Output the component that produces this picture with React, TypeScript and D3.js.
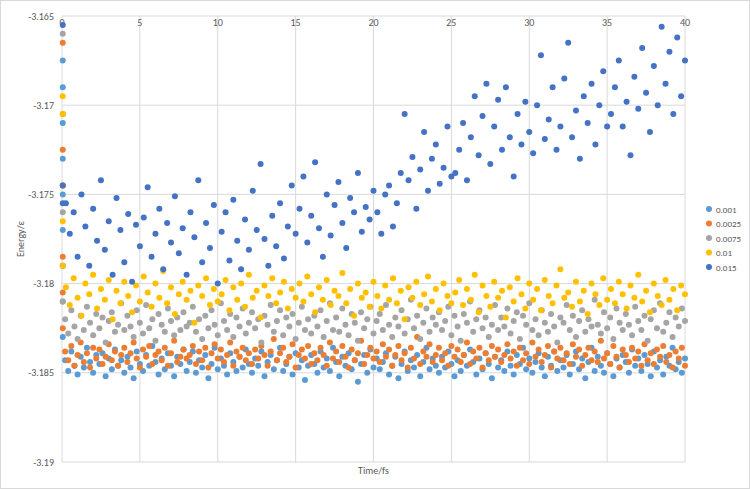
import React from "react";
import * as d3 from "d3";

const seriesNames = ["0.001", "0.0025", "0.0075", "0.01", "0.015"];
const colors = ["#5B9BD5", "#ED7D31", "#A5A5A5", "#FFC000", "#4472C4"];
const xTicks = [0, 5, 10, 15, 20, 25, 30, 35, 40];
const yTicks = [-3.165, -3.17, -3.175, -3.18, -3.185, -3.19];

// initial transient values (t ≈ 0)
const start001 = [-3.1675, -3.169, -3.171, -3.173, -3.175, -3.177, -3.179, -3.181, -3.183];
const start0025 = [-3.1665, -3.1705, -3.1725, -3.1745, -3.1785, -3.1805, -3.1825];
const start0075 = [-3.166, -3.1745, -3.176, -3.179, -3.181];
const start01 = [-3.1695, -3.1705, -3.1745, -3.1765, -3.179];
const start015 = [-3.1655, -3.1745, -3.1755];

const v015 = [
-3.1755,-3.1772,-3.1760,-3.1785,-3.1750,-3.1768,-3.1790,-3.1758,-3.1776,-3.1742,-3.1781,-3.1765,-3.1795,-3.1752,-3.1770,-3.1788,-3.1761,-3.1799,-3.1767,-3.1779,
-3.1763,-3.1746,-3.1785,-3.1772,-3.1758,-3.1792,-3.1766,-3.1777,-3.1751,-3.1783,-3.1769,-3.1795,-3.1760,-3.1774,-3.1742,-3.1788,-3.1766,-3.1780,-3.1756,-3.1800,
-3.1771,-3.1760,-3.1787,-3.1753,-3.1776,-3.1792,-3.1764,-3.1781,-3.1748,-3.1770,-3.1733,-3.1775,-3.1790,-3.1762,-3.1779,-3.1755,-3.1786,-3.1768,-3.1745,-3.1772,
-3.1758,-3.1740,-3.1777,-3.1762,-3.1732,-3.1769,-3.1785,-3.1750,-3.1773,-3.1756,-3.1743,-3.1766,-3.1780,-3.1752,-3.1760,-3.1738,-3.1771,-3.1757,-3.1764,-3.1748,
-3.1760,-3.1772,-3.1750,-3.1745,-3.1768,-3.1755,-3.1738,-3.1705,-3.1742,-3.1729,-3.1758,-3.1736,-3.1715,-3.1748,-3.1730,-3.1722,-3.1744,-3.1735,-3.1712,-3.1740,
-3.1738,-3.1725,-3.1710,-3.1742,-3.1718,-3.1695,-3.1728,-3.1706,-3.1688,-3.1733,-3.1712,-3.1697,-3.1725,-3.1690,-3.1718,-3.1740,-3.1705,-3.1722,-3.1698,-3.1715,
-3.1727,-3.1700,-3.1672,-3.1719,-3.1708,-3.1690,-3.1725,-3.1712,-3.1685,-3.1665,-3.1718,-3.1703,-3.1730,-3.1695,-3.1710,-3.1688,-3.1722,-3.1700,-3.1681,-3.1712,
-3.1705,-3.1690,-3.1675,-3.1712,-3.1698,-3.1728,-3.1684,-3.1702,-3.1668,-3.1693,-3.1715,-3.1678,-3.1700,-3.1656,-3.1688,-3.1670,-3.1705,-3.1662,-3.1695,-3.1675,
];

const v01 = [
-3.1802,-3.1812,-3.1797,-3.1808,-3.1818,-3.1800,-3.1806,-3.1795,-3.1814,-3.1803,-3.1809,-3.1798,-3.1820,-3.1804,-3.1811,-3.1799,-3.1807,-3.1816,-3.1801,-3.1810,
-3.1796,-3.1805,-3.1813,-3.1800,-3.1808,-3.1793,-3.1811,-3.1802,-3.1817,-3.1806,-3.1799,-3.1809,-3.1804,-3.1822,-3.1801,-3.1807,-3.1797,-3.1812,-3.1803,-3.1810,
-3.1806,-3.1798,-3.1815,-3.1802,-3.1809,-3.1800,-3.1813,-3.1795,-3.1808,-3.1804,-3.1819,-3.1801,-3.1807,-3.1797,-3.1811,-3.1805,-3.1799,-3.1814,-3.1803,-3.1808,
-3.1800,-3.1810,-3.1796,-3.1806,-3.1816,-3.1802,-3.1809,-3.1798,-3.1812,-3.1804,-3.1807,-3.1794,-3.1811,-3.1803,-3.1818,-3.1800,-3.1808,-3.1805,-3.1813,-3.1799,
-3.1807,-3.1814,-3.1801,-3.1809,-3.1797,-3.1811,-3.1804,-3.1820,-3.1802,-3.1808,-3.1799,-3.1812,-3.1806,-3.1796,-3.1810,-3.1803,-3.1815,-3.1800,-3.1807,-3.1811,
-3.1805,-3.1798,-3.1812,-3.1803,-3.1809,-3.1795,-3.1816,-3.1801,-3.1807,-3.1813,-3.1799,-3.1808,-3.1804,-3.1819,-3.1802,-3.1810,-3.1797,-3.1806,-3.1814,-3.1800,
-3.1809,-3.1803,-3.1815,-3.1798,-3.1807,-3.1811,-3.1801,-3.1792,-3.1808,-3.1805,-3.1813,-3.1799,-3.1810,-3.1804,-3.1817,-3.1800,-3.1806,-3.1812,-3.1797,-3.1809,
-3.1803,-3.1811,-3.1799,-3.1806,-3.1814,-3.1801,-3.1808,-3.1795,-3.1810,-3.1804,-3.1816,-3.1800,-3.1807,-3.1812,-3.1798,-3.1809,-3.1803,-3.1815,-3.1801,-3.1806,
];

const v0075 = [
-3.1820,-3.1828,-3.1815,-3.1824,-3.1831,-3.1818,-3.1826,-3.1813,-3.1822,-3.1829,-3.1817,-3.1825,-3.1819,-3.1833,-3.1821,-3.1816,-3.1827,-3.1823,-3.1811,-3.1826,
-3.1818,-3.1824,-3.1830,-3.1815,-3.1822,-3.1828,-3.1812,-3.1825,-3.1820,-3.1832,-3.1817,-3.1823,-3.1827,-3.1814,-3.1821,-3.1829,-3.1819,-3.1826,-3.1816,-3.1824,
-3.1822,-3.1813,-3.1827,-3.1820,-3.1831,-3.1818,-3.1825,-3.1815,-3.1823,-3.1829,-3.1811,-3.1821,-3.1826,-3.1817,-3.1830,-3.1819,-3.1824,-3.1814,-3.1828,-3.1822,
-3.1816,-3.1825,-3.1820,-3.1833,-3.1818,-3.1823,-3.1812,-3.1827,-3.1821,-3.1815,-3.1829,-3.1819,-3.1824,-3.1817,-3.1831,-3.1822,-3.1813,-3.1826,-3.1820,-3.1828,
-3.1818,-3.1824,-3.1815,-3.1830,-3.1821,-3.1811,-3.1826,-3.1819,-3.1827,-3.1814,-3.1823,-3.1829,-3.1817,-3.1822,-3.1832,-3.1816,-3.1825,-3.1820,-3.1813,-3.1828,
-3.1821,-3.1817,-3.1826,-3.1812,-3.1823,-3.1830,-3.1819,-3.1824,-3.1815,-3.1828,-3.1820,-3.1809,-3.1825,-3.1818,-3.1831,-3.1822,-3.1814,-3.1827,-3.1819,-3.1823,
-3.1816,-3.1826,-3.1821,-3.1813,-3.1829,-3.1818,-3.1824,-3.1832,-3.1817,-3.1822,-3.1810,-3.1827,-3.1820,-3.1815,-3.1825,-3.1819,-3.1830,-3.1823,-3.1812,-3.1826,
-3.1819,-3.1824,-3.1814,-3.1828,-3.1821,-3.1816,-3.1831,-3.1818,-3.1823,-3.1811,-3.1826,-3.1820,-3.1829,-3.1815,-3.1822,-3.1827,-3.1817,-3.1824,-3.1833,-3.1819,
-3.1822,-3.1812,-3.1826,-3.1818,-3.1830,-3.1821,-3.1815,-3.1827,-3.1820,-3.1824,-3.1809,-3.1823,-3.1828,-3.1816,-3.1825,-3.1819,-3.1831,-3.1814,-3.1822,-3.1826,
-3.1817,-3.1823,-3.1829,-3.1813,-3.1821,-3.1826,-3.1818,-3.1832,-3.1820,-3.1815,-3.1825,-3.1811,-3.1827,-3.1822,-3.1816,-3.1830,-3.1819,-3.1824,-3.1814,-3.1821,
];

const v0025 = [
-3.1838,-3.1843,-3.1835,-3.1846,-3.1840,-3.1833,-3.1844,-3.1839,-3.1847,-3.1836,-3.1842,-3.1837,-3.1845,-3.1841,-3.1834,-3.1843,-3.1838,-3.1846,-3.1840,-3.1836,
-3.1844,-3.1839,-3.1833,-3.1842,-3.1847,-3.1837,-3.1841,-3.1835,-3.1845,-3.1840,-3.1838,-3.1843,-3.1836,-3.1846,-3.1839,-3.1832,-3.1844,-3.1841,-3.1837,-3.1842,
-3.1840,-3.1835,-3.1845,-3.1838,-3.1843,-3.1836,-3.1847,-3.1839,-3.1834,-3.1842,-3.1837,-3.1844,-3.1840,-3.1833,-3.1846,-3.1838,-3.1841,-3.1836,-3.1843,-3.1839,
-3.1845,-3.1837,-3.1842,-3.1835,-3.1840,-3.1846,-3.1838,-3.1831,-3.1843,-3.1839,-3.1836,-3.1844,-3.1841,-3.1834,-3.1847,-3.1840,-3.1837,-3.1842,-3.1835,-3.1845,
-3.1839,-3.1843,-3.1836,-3.1840,-3.1846,-3.1833,-3.1842,-3.1838,-3.1844,-3.1835,-3.1841,-3.1847,-3.1837,-3.1843,-3.1839,-3.1832,-3.1845,-3.1840,-3.1836,-3.1842,
-3.1838,-3.1844,-3.1834,-3.1841,-3.1837,-3.1846,-3.1840,-3.1835,-3.1843,-3.1839,-3.1847,-3.1836,-3.1842,-3.1830,-3.1845,-3.1838,-3.1841,-3.1834,-3.1844,-3.1840,
-3.1836,-3.1843,-3.1839,-3.1846,-3.1835,-3.1841,-3.1837,-3.1844,-3.1840,-3.1833,-3.1845,-3.1838,-3.1842,-3.1836,-3.1847,-3.1839,-3.1843,-3.1835,-3.1841,-3.1837,
-3.1844,-3.1840,-3.1834,-3.1842,-3.1838,-3.1846,-3.1836,-3.1843,-3.1839,-3.1845,-3.1833,-3.1841,-3.1837,-3.1844,-3.1840,-3.1835,-3.1847,-3.1838,-3.1842,-3.1836,
-3.1843,-3.1839,-3.1845,-3.1834,-3.1841,-3.1837,-3.1846,-3.1840,-3.1836,-3.1843,-3.1838,-3.1844,-3.1832,-3.1842,-3.1839,-3.1845,-3.1835,-3.1841,-3.1847,-3.1837,
-3.1840,-3.1844,-3.1836,-3.1842,-3.1838,-3.1846,-3.1834,-3.1843,-3.1839,-3.1845,-3.1837,-3.1841,-3.1835,-3.1844,-3.1840,-3.1847,-3.1838,-3.1842,-3.1836,-3.1846,
];

const v001 = [
-3.1843,-3.1849,-3.1838,-3.1846,-3.1851,-3.1841,-3.1847,-3.1836,-3.1844,-3.1850,-3.1840,-3.1845,-3.1839,-3.1852,-3.1842,-3.1848,-3.1837,-3.1846,-3.1843,-3.1850,
-3.1841,-3.1847,-3.1853,-3.1838,-3.1845,-3.1849,-3.1840,-3.1846,-3.1835,-3.1844,-3.1851,-3.1842,-3.1848,-3.1839,-3.1846,-3.1852,-3.1841,-3.1845,-3.1837,-3.1849,
-3.1844,-3.1838,-3.1850,-3.1843,-3.1847,-3.1840,-3.1853,-3.1845,-3.1836,-3.1848,-3.1842,-3.1846,-3.1851,-3.1839,-3.1844,-3.1849,-3.1841,-3.1847,-3.1837,-3.1845,
-3.1850,-3.1842,-3.1846,-3.1838,-3.1852,-3.1844,-3.1840,-3.1848,-3.1843,-3.1836,-3.1849,-3.1845,-3.1841,-3.1851,-3.1839,-3.1847,-3.1843,-3.1854,-3.1846,-3.1840,
-3.1845,-3.1850,-3.1838,-3.1847,-3.1842,-3.1849,-3.1836,-3.1844,-3.1852,-3.1841,-3.1846,-3.1839,-3.1848,-3.1843,-3.1855,-3.1845,-3.1840,-3.1850,-3.1837,-3.1847,
-3.1842,-3.1848,-3.1844,-3.1839,-3.1851,-3.1846,-3.1841,-3.1853,-3.1845,-3.1838,-3.1849,-3.1843,-3.1847,-3.1840,-3.1852,-3.1844,-3.1836,-3.1848,-3.1842,-3.1846,
-3.1850,-3.1841,-3.1847,-3.1838,-3.1845,-3.1852,-3.1843,-3.1849,-3.1840,-3.1846,-3.1837,-3.1844,-3.1851,-3.1842,-3.1848,-3.1839,-3.1845,-3.1853,-3.1841,-3.1847,
-3.1843,-3.1849,-3.1838,-3.1846,-3.1851,-3.1840,-3.1845,-3.1836,-3.1848,-3.1842,-3.1850,-3.1844,-3.1839,-3.1847,-3.1852,-3.1841,-3.1846,-3.1838,-3.1849,-3.1843,
-3.1847,-3.1840,-3.1851,-3.1845,-3.1838,-3.1848,-3.1842,-3.1853,-3.1844,-3.1836,-3.1849,-3.1841,-3.1846,-3.1850,-3.1839,-3.1845,-3.1852,-3.1842,-3.1847,-3.1840,
-3.1844,-3.1850,-3.1837,-3.1846,-3.1842,-3.1849,-3.1840,-3.1845,-3.1852,-3.1838,-3.1847,-3.1843,-3.1851,-3.1841,-3.1846,-3.1836,-3.1848,-3.1844,-3.1850,-3.1842,
];

const mainSeries = [v001, v0025, v0075, v01, v015];
const starts = [start001, start0025, start0075, start01, start015];

const W = 750, H = 489;
const L = 62, R = 685, T = 16, B = 462;

export default function App() {
  const x = d3.scaleLinear().domain([0, 40]).range([L, R]);
  const y = d3.scaleLinear().domain([-3.19, -3.165]).range([B, T]);
  const font = "Calibri, Carlito, 'Liberation Sans', Arial, sans-serif";
  return (
    <svg width={W} height={H} style={{ position: "absolute", left: 0, top: 0, background: "#fff" }}>
      <rect x={0.5} y={0.5} width={W - 1} height={H - 1} fill="#fff" stroke="#d9d9d9" />
      {yTicks.map((t) => (
        <line key={"h" + t} x1={L} x2={R} y1={y(t)} y2={y(t)} stroke="#d9d9d9" strokeWidth={1} />
      ))}
      {xTicks.map((t) => (
        <line key={"v" + t} x1={x(t)} x2={x(t)} y1={T} y2={B} stroke="#d9d9d9" strokeWidth={1} />
      ))}
      {yTicks.map((t) => (
        <text key={"yl" + t} x={L - 8} y={y(t) + 3.5} textAnchor="end" fontSize={10} fill="#595959" fontFamily={font}>
          {d3.format(".3f")(t).replace(/0$/, "").replace("−", "-")}
        </text>
      ))}
      {xTicks.map((t) => (
        <text key={"xl" + t} x={x(t)} y={T + 10} textAnchor="middle" fontSize={10} fill="#595959" fontFamily={font}>
          {t}
        </text>
      ))}
      {mainSeries.map((vals, si) => {
        const n = vals.length;
        return (
          <g key={"s" + si} fill={colors[si]}>
            {starts[si].map((v, i) => (
              <circle key={"st" + i} cx={x(0.05)} cy={y(v)} r={3} />
            ))}
            {vals.map((v, i) => (
              <circle key={i} cx={x(((i + 1) * 40) / n)} cy={y(v)} r={3} />
            ))}
          </g>
        );
      })}
      <text x={(L + R) / 2} y={474} textAnchor="middle" fontSize={10} fill="#595959" fontFamily={font}>
        Time/fs
      </text>
      <text transform={`translate(24,${(T + B) / 2}) rotate(-90)`} textAnchor="middle" fontSize={10} fill="#595959" fontFamily={font}>
        Energy/ε
      </text>
      {seriesNames.map((s, i) => (
        <g key={"lg" + s} transform={`translate(709,${209 + i * 14.5})`}>
          <circle r={3} fill={colors[i]} />
          <text x={7} y={3.5} fontSize={9} fill="#595959" fontFamily={font}>{s}</text>
        </g>
      ))}
    </svg>
  );
}
